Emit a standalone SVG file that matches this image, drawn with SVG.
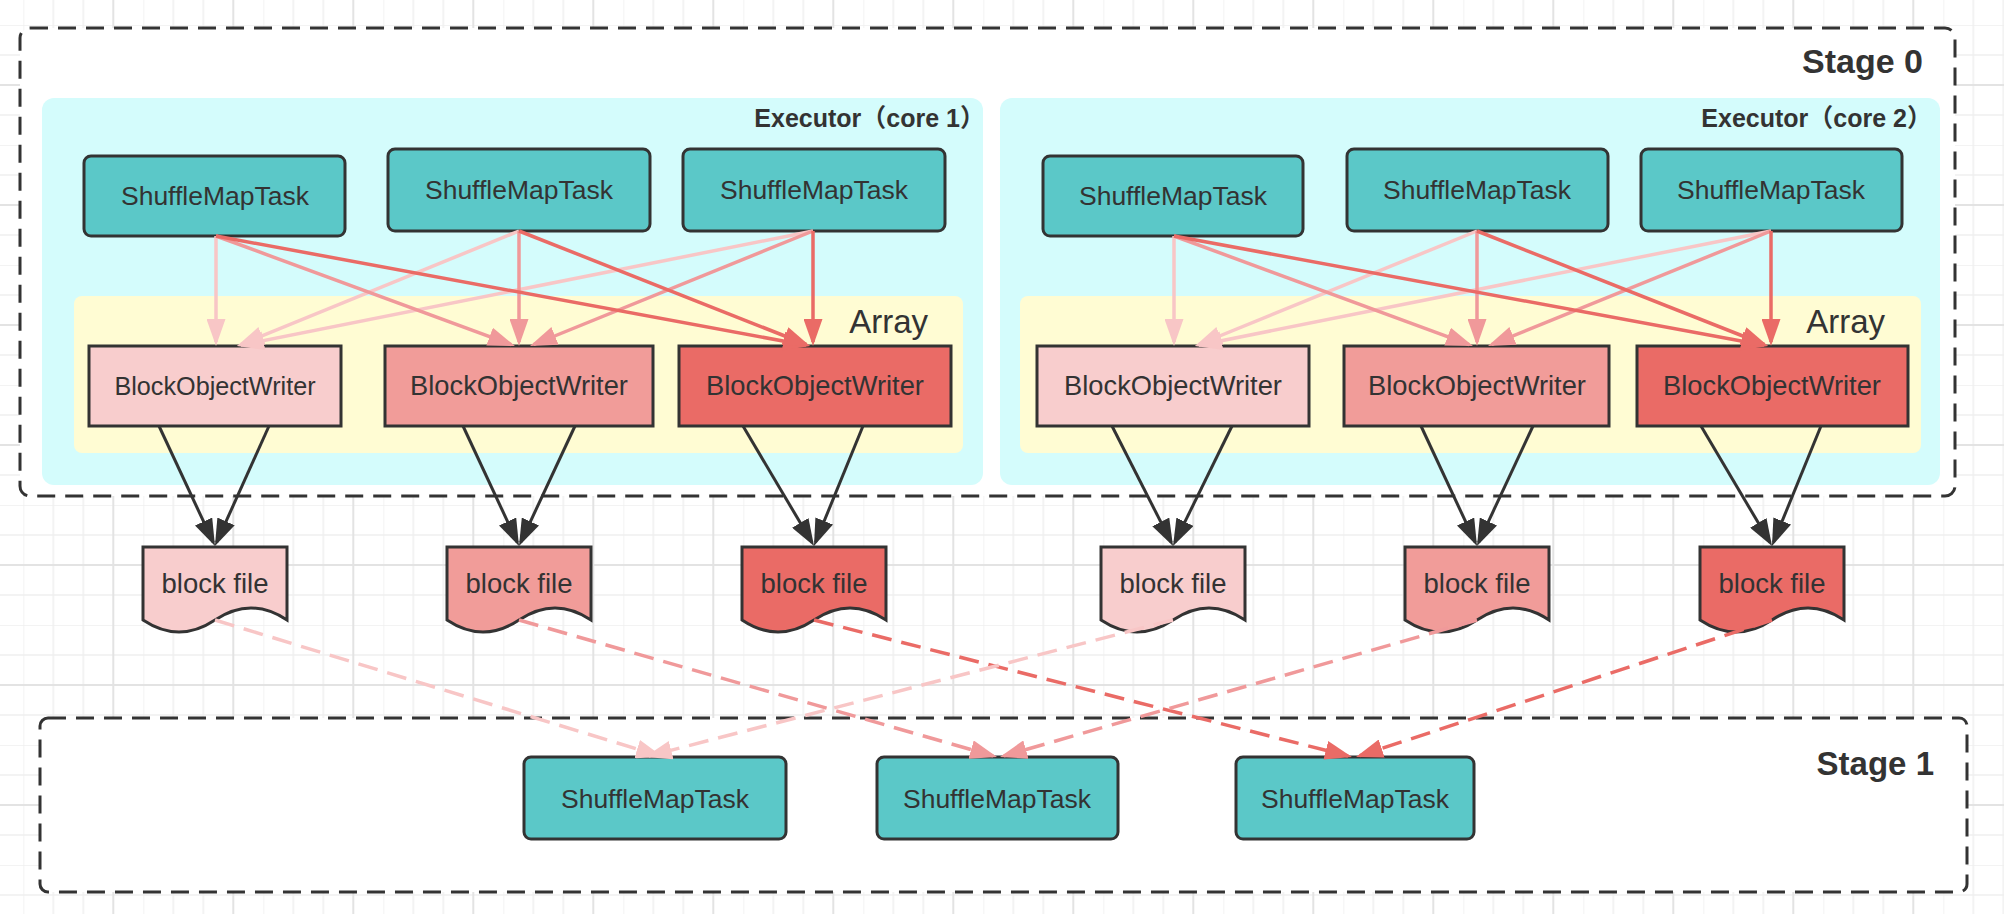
<svg xmlns="http://www.w3.org/2000/svg" width="2004" height="914" viewBox="0 0 2004 914">
<style>
.txt{font-family:"Liberation Sans",Arial,"Noto Sans CJK SC",sans-serif;fill:#333;}
.mid{text-anchor:middle;}
.end{text-anchor:end;}
.task{fill:#5BC8C8;stroke:#333;stroke-width:3;}
.wr{stroke:#333;stroke-width:3;}
.stage{fill:#fff;stroke:#333;stroke-width:3;stroke-dasharray:18 10;}
.exec{fill:#D4FCFC;}
.arr{fill:#FFFCD3;}
.pale{fill:#F8CDCD;}
.med{fill:#F19C99;}
.red{fill:#EA6B66;}
.c-pale{stroke:#F8C6C6;}
.c-med{stroke:#F0999A;}
.c-red{stroke:#EA6B66;}
.c-dark{stroke:#333;}
#connectors line{stroke-width:3.5;fill:none;}
#connectors line.c-dark{stroke-width:3;}
.dash{stroke-dasharray:20 10;}
</style>
<defs>
<pattern id="grid" x="23.3" y="25" width="120" height="120" patternUnits="userSpaceOnUse">
<path d="M0,0V120M30,0V120M60,0V120M0,0H120M0,30H120M0,90H120" stroke="#efefef" stroke-width="1.5" fill="none"/>
<path d="M90,0V120M0,60H120" stroke="#e3e3e3" stroke-width="2" fill="none"/>
</pattern>
<marker id="ah-pale" viewBox="0 0 27 19" refX="23" refY="9.5" markerWidth="27" markerHeight="19" markerUnits="userSpaceOnUse" orient="auto"><path d="M0,0L27,9.5L0,19Z" fill="#F8C6C6"/></marker>
<marker id="ah-med" viewBox="0 0 27 19" refX="23" refY="9.5" markerWidth="27" markerHeight="19" markerUnits="userSpaceOnUse" orient="auto"><path d="M0,0L27,9.5L0,19Z" fill="#F0999A"/></marker>
<marker id="ah-red" viewBox="0 0 27 19" refX="23" refY="9.5" markerWidth="27" markerHeight="19" markerUnits="userSpaceOnUse" orient="auto"><path d="M0,0L27,9.5L0,19Z" fill="#EA6B66"/></marker>
<marker id="ah-dark" viewBox="0 0 27 19" refX="23" refY="9.5" markerWidth="27" markerHeight="19" markerUnits="userSpaceOnUse" orient="auto"><path d="M0,0L27,9.5L0,19Z" fill="#333"/></marker>
</defs>
<rect width="2004" height="914" fill="#fff"/>
<rect width="2004" height="914" fill="url(#grid)"/>

<g id="stage0">
<rect class="stage" x="20" y="28" width="1935" height="468" rx="10"/>
<text class="txt end" x="1923" y="73" font-size="34" font-weight="bold">Stage 0</text>
</g>
<g id="stage1">
<rect class="stage" x="40" y="718" width="1927" height="174" rx="8"/>
<text class="txt end" x="1934" y="775" font-size="33" font-weight="bold">Stage 1</text>
</g>

<g id="executor1">
<rect class="exec" x="42" y="98" width="941" height="387" rx="12"/>
<text class="txt end" x="985" y="127" font-size="25" font-weight="bold">Executor（core 1）</text>
</g>
<g id="executor2">
<rect class="exec" x="1000" y="98" width="940" height="387" rx="12"/>
<text class="txt end" x="1932" y="127" font-size="25" font-weight="bold">Executor（core 2）</text>
</g>
<g id="array1">
<rect class="arr" x="74" y="296" width="889" height="157" rx="8"/>
<text class="txt end" x="928" y="333" font-size="33">Array</text>
</g>
<g id="array2">
<rect class="arr" x="1020" y="296" width="901" height="157" rx="8"/>
<text class="txt end" x="1885" y="333" font-size="33">Array</text>
</g>

<g id="task-a"><rect class="task" x="84" y="156" width="261" height="80" rx="7"/><text class="txt mid" x="215" y="205" font-size="26.5">ShuffleMapTask</text></g>
<g id="task-b"><rect class="task" x="388" y="149" width="262" height="82" rx="7"/><text class="txt mid" x="519" y="199" font-size="26.5">ShuffleMapTask</text></g>
<g id="task-c"><rect class="task" x="683" y="149" width="262" height="82" rx="7"/><text class="txt mid" x="814" y="199" font-size="26.5">ShuffleMapTask</text></g>
<g id="task-d"><rect class="task" x="1043" y="156" width="260" height="80" rx="7"/><text class="txt mid" x="1173" y="205" font-size="26.5">ShuffleMapTask</text></g>
<g id="task-e"><rect class="task" x="1347" y="149" width="261" height="82" rx="7"/><text class="txt mid" x="1477" y="199" font-size="26.5">ShuffleMapTask</text></g>
<g id="task-f"><rect class="task" x="1641" y="149" width="261" height="82" rx="7"/><text class="txt mid" x="1771" y="199" font-size="26.5">ShuffleMapTask</text></g>

<g id="writer-a"><rect class="wr pale" x="89" y="346" width="252" height="80"/><text class="txt mid" x="215" y="395" font-size="25.2">BlockObjectWriter</text></g>
<g id="writer-b"><rect class="wr med" x="385" y="346" width="268" height="80"/><text class="txt mid" x="519" y="395" font-size="27.3">BlockObjectWriter</text></g>
<g id="writer-c"><rect class="wr red" x="679" y="346" width="272" height="80"/><text class="txt mid" x="815" y="395" font-size="27.3">BlockObjectWriter</text></g>
<g id="writer-d"><rect class="wr pale" x="1037" y="346" width="272" height="80"/><text class="txt mid" x="1173" y="395" font-size="27.3">BlockObjectWriter</text></g>
<g id="writer-e"><rect class="wr med" x="1344" y="346" width="265" height="80"/><text class="txt mid" x="1477" y="395" font-size="27.3">BlockObjectWriter</text></g>
<g id="writer-f"><rect class="wr red" x="1637" y="346" width="271" height="80"/><text class="txt mid" x="1772" y="395" font-size="27.3">BlockObjectWriter</text></g>

<g id="file-a"><path class="wr pale" d="M143,547H287V620Q251,596 215,620T143,620Z"/><text class="txt mid" x="215" y="593" font-size="27.5">block file</text></g>
<g id="file-b"><path class="wr med" d="M447,547H591V620Q555,596 519,620T447,620Z"/><text class="txt mid" x="519" y="593" font-size="27.5">block file</text></g>
<g id="file-c"><path class="wr red" d="M742,547H886V620Q850,596 814,620T742,620Z"/><text class="txt mid" x="814" y="593" font-size="27.5">block file</text></g>
<g id="file-d"><path class="wr pale" d="M1101,547H1245V620Q1209,596 1173,620T1101,620Z"/><text class="txt mid" x="1173" y="593" font-size="27.5">block file</text></g>
<g id="file-e"><path class="wr med" d="M1405,547H1549V620Q1513,596 1477,620T1405,620Z"/><text class="txt mid" x="1477" y="593" font-size="27.5">block file</text></g>
<g id="file-f"><path class="wr red" d="M1700,547H1844V620Q1808,596 1772,620T1700,620Z"/><text class="txt mid" x="1772" y="593" font-size="27.5">block file</text></g>

<g id="task-s1-a"><rect class="task" x="524" y="757" width="262" height="82" rx="7"/><text class="txt mid" x="655" y="808" font-size="26.5">ShuffleMapTask</text></g>
<g id="task-s1-b"><rect class="task" x="877" y="757" width="241" height="82" rx="7"/><text class="txt mid" x="997" y="808" font-size="26.5">ShuffleMapTask</text></g>
<g id="task-s1-c"><rect class="task" x="1236" y="757" width="238" height="82" rx="7"/><text class="txt mid" x="1355" y="808" font-size="26.5">ShuffleMapTask</text></g>

<g id="connectors">
<line class="c-pale" x1="216" y1="236" x2="216" y2="342" marker-end="url(#ah-pale)"/>
<line class="c-pale" x1="519" y1="231" x2="240.7" y2="344.5" marker-end="url(#ah-pale)"/>
<line class="c-pale" x1="813" y1="231" x2="240.9" y2="345.2" marker-end="url(#ah-pale)"/>
<line class="c-med" x1="216" y1="236" x2="511.2" y2="344.6" marker-end="url(#ah-med)"/>
<line class="c-med" x1="519" y1="231" x2="519" y2="342" marker-end="url(#ah-med)"/>
<line class="c-med" x1="813" y1="231" x2="533.7" y2="344.5" marker-end="url(#ah-med)"/>
<line class="c-red" x1="216" y1="236" x2="806.1" y2="345.3" marker-end="url(#ah-red)"/>
<line class="c-red" x1="519" y1="231" x2="806.3" y2="344.5" marker-end="url(#ah-red)"/>
<line class="c-red" x1="813" y1="231" x2="813" y2="342" marker-end="url(#ah-red)"/>

<line class="c-pale" x1="1174" y1="236" x2="1174" y2="342" marker-end="url(#ah-pale)"/>
<line class="c-pale" x1="1477" y1="231" x2="1198.7" y2="344.5" marker-end="url(#ah-pale)"/>
<line class="c-pale" x1="1771" y1="231" x2="1198.9" y2="345.2" marker-end="url(#ah-pale)"/>
<line class="c-med" x1="1174" y1="236" x2="1469.2" y2="344.6" marker-end="url(#ah-med)"/>
<line class="c-med" x1="1477" y1="231" x2="1477" y2="342" marker-end="url(#ah-med)"/>
<line class="c-med" x1="1771" y1="231" x2="1491.7" y2="344.5" marker-end="url(#ah-med)"/>
<line class="c-red" x1="1174" y1="236" x2="1764.1" y2="345.3" marker-end="url(#ah-red)"/>
<line class="c-red" x1="1477" y1="231" x2="1764.3" y2="344.5" marker-end="url(#ah-red)"/>
<line class="c-red" x1="1771" y1="231" x2="1771" y2="342" marker-end="url(#ah-red)"/>

<line class="c-dark" x1="159" y1="426" x2="213.3" y2="542.4" marker-end="url(#ah-dark)"/>
<line class="c-dark" x1="269" y1="426" x2="216.6" y2="542.4" marker-end="url(#ah-dark)"/>
<line class="c-dark" x1="463" y1="426" x2="517.3" y2="542.4" marker-end="url(#ah-dark)"/>
<line class="c-dark" x1="575" y1="426" x2="520.7" y2="542.4" marker-end="url(#ah-dark)"/>
<line class="c-dark" x1="743" y1="426" x2="812" y2="542.6" marker-end="url(#ah-dark)"/>
<line class="c-dark" x1="863" y1="426" x2="815.5" y2="542.3" marker-end="url(#ah-dark)"/>
<line class="c-dark" x1="1112" y1="426" x2="1171.2" y2="542.4" marker-end="url(#ah-dark)"/>
<line class="c-dark" x1="1232" y1="426" x2="1174.8" y2="542.4" marker-end="url(#ah-dark)"/>
<line class="c-dark" x1="1421" y1="426" x2="1475.3" y2="542.4" marker-end="url(#ah-dark)"/>
<line class="c-dark" x1="1533" y1="426" x2="1478.7" y2="542.4" marker-end="url(#ah-dark)"/>
<line class="c-dark" x1="1701" y1="426" x2="1770" y2="542.6" marker-end="url(#ah-dark)"/>
<line class="c-dark" x1="1821" y1="426" x2="1773.5" y2="542.3" marker-end="url(#ah-dark)"/>

<line class="c-pale dash" x1="215" y1="620" x2="659.2" y2="755.8" marker-end="url(#ah-pale)"/>
<line class="c-med dash" x1="519" y1="620" x2="993.2" y2="755.9" marker-end="url(#ah-med)"/>
<line class="c-red dash" x1="814" y1="620" x2="1348.1" y2="756" marker-end="url(#ah-red)"/>
<line class="c-pale dash" x1="1173" y1="620" x2="648.9" y2="756" marker-end="url(#ah-pale)"/>
<line class="c-med dash" x1="1477" y1="620" x2="1003.8" y2="755.9" marker-end="url(#ah-med)"/>
<line class="c-red dash" x1="1772" y1="620" x2="1359.8" y2="755.7" marker-end="url(#ah-red)"/>
</g>
</svg>
